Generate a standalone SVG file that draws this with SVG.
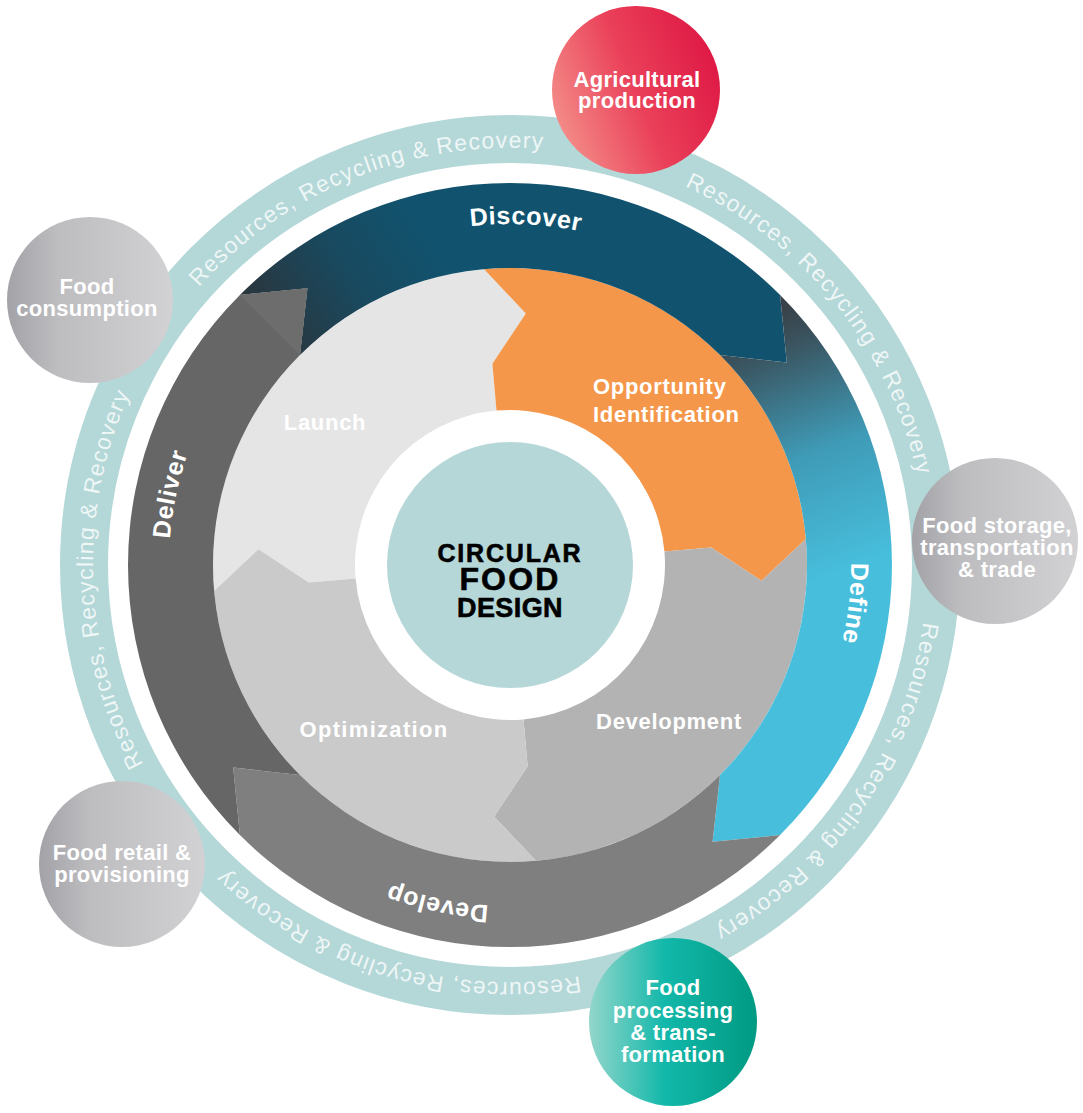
<svg xmlns="http://www.w3.org/2000/svg" width="1083" height="1113" viewBox="0 0 1083 1113">
<defs>
  <linearGradient id="gGray" x1="0" y1="0" x2="1" y2="0">
    <stop offset="0" stop-color="#a2a2a7"/>
    <stop offset="0.3" stop-color="#bdbdc0"/>
    <stop offset="1" stop-color="#d2d2d4"/>
  </linearGradient>
  <linearGradient id="gRed" x1="0" y1="0.7" x2="1" y2="0.3">
    <stop offset="0" stop-color="#f48f8a"/>
    <stop offset="0.5" stop-color="#ea4059"/>
    <stop offset="1" stop-color="#de1744"/>
  </linearGradient>
  <linearGradient id="gTeal" x1="0" y1="0.5" x2="1" y2="0.5">
    <stop offset="0" stop-color="#93d6cb"/>
    <stop offset="0.45" stop-color="#12b8aa"/>
    <stop offset="1" stop-color="#009a82"/>
  </linearGradient>
  <linearGradient id="gDiscover" gradientUnits="userSpaceOnUse" x1="255" y1="320" x2="420" y2="215">
    <stop offset="0" stop-color="#2b353c"/>
    <stop offset="0.55" stop-color="#184a60"/>
    <stop offset="1" stop-color="#11536f"/>
  </linearGradient>
  <linearGradient id="gDefine" gradientUnits="userSpaceOnUse" x1="775" y1="310" x2="870" y2="560">
    <stop offset="0" stop-color="#394148"/>
    <stop offset="0.15" stop-color="#3a5561"/>
    <stop offset="0.55" stop-color="#3f9bb7"/>
    <stop offset="1" stop-color="#47bedc"/>
  </linearGradient>
  <path id="ringPath" d="M 156.36 344.02 A 417 417 0 1 1 863.64 785.98 A 417 417 0 1 1 156.36 344.02"/>
  <path id="bandPath" d="M 220.81 384.30 A 341 341 0 1 1 799.19 745.70 A 341 341 0 1 1 220.81 384.30"/>
</defs>
<style>
  .lbl { font-family: "Liberation Sans", Arial, sans-serif; font-weight: bold; fill: #ffffff; }
  .node { font-size: 22px; text-anchor: middle; letter-spacing: 0.3px; }
  .sec { font-size: 22px; letter-spacing: 0.7px; }
  .mid { text-anchor: middle; }
  .band { font-size: 25px; letter-spacing: 0.6px; text-anchor: middle; }
  .ring { font-family: "Liberation Sans", Arial, sans-serif; font-size: 23px; fill: #eef6f6; letter-spacing: 1.2px; text-anchor: middle; }
  .ctr { font-family: "Liberation Sans", Arial, sans-serif; font-weight: bold; fill: #000000; stroke: #000000; stroke-width: 0.6px; text-anchor: middle; }
</style>

<rect x="0" y="0" width="1083" height="1113" fill="#ffffff"/>

<!-- outer recycling loop -->
<g id="connectors">
  <circle cx="510" cy="565" r="426" fill="none" stroke="#b4d7d8" stroke-width="48"/>
  <text class="ring"><textPath href="#ringPath" startOffset="263.5">Resources, Recycling &amp; Recovery</textPath></text>
  <text class="ring"><textPath href="#ringPath" startOffset="794.8">Resources, Recycling &amp; Recovery</textPath></text>
  <text class="ring"><textPath href="#ringPath" startOffset="1326.8">Resources, Recycling &amp; Recovery</textPath></text>
  <text class="ring"><textPath href="#ringPath" startOffset="1854.4">Resources, Recycling &amp; Recovery</textPath></text>
  <text class="ring"><textPath href="#ringPath" startOffset="2371.6">Resources, Recycling &amp; Recovery</textPath></text>
</g>

<!-- inner phase sectors -->
<g id="launch">
  <path fill="#e5e5e5" d="M 214.13 590.89 A 297 297 0 0 1 484.11 269.13 L 525.82 313.50 L 492.39 363.77 L 496.49 410.59 A 155 155 0 0 0 355.59 578.51 L 308.77 582.61 L 258.50 549.18 Z"/>
  <text class="lbl sec mid" x="325" y="430">Launch</text>
</g>
<g id="opportunity-identification">
  <path fill="#f5974a" d="M 484.11 269.13 A 297 297 0 0 1 805.87 539.11 L 761.50 580.82 L 711.23 547.39 L 664.41 551.49 A 155 155 0 0 0 496.49 410.59 L 492.39 363.77 L 525.82 313.50 Z"/>
  <text class="lbl sec" x="593" y="394">Opportunity</text>
  <text class="lbl sec" x="593" y="422">Identification</text>
</g>
<g id="development">
  <path fill="#b3b3b3" d="M 805.87 539.11 A 297 297 0 0 1 535.89 860.87 L 494.18 816.50 L 527.61 766.23 L 523.51 719.41 A 155 155 0 0 0 664.41 551.49 L 711.23 547.39 L 761.50 580.82 Z"/>
  <text class="lbl sec mid" x="669" y="729">Development</text>
</g>
<g id="optimization">
  <path fill="#cacaca" d="M 535.89 860.87 A 297 297 0 0 1 214.13 590.89 L 258.50 549.18 L 308.77 582.61 L 355.59 578.51 A 155 155 0 0 0 523.51 719.41 L 527.61 766.23 L 494.18 816.50 Z"/>
  <text class="lbl sec mid" x="374" y="737" style="letter-spacing:1.3px">Optimization</text>
</g>

<!-- outer phase bands -->
<g id="discover">
  <path fill="url(#gDiscover)" d="M 239.89 294.89 A 382 382 0 0 1 780.11 294.89 L 786.80 362.42 L 720.01 354.99 A 297 297 0 0 0 299.99 354.99 L 307.42 288.20 Z"/>
  <text class="lbl band"><textPath href="#bandPath" startOffset="360.7">Discover</textPath></text>
</g>
<g id="define">
  <path fill="url(#gDefine)" d="M 780.11 294.89 A 382 382 0 0 1 780.11 835.11 L 712.58 841.80 L 720.01 775.01 A 297 297 0 0 0 720.01 354.99 L 786.80 362.42 Z"/>
  <text class="lbl band"><textPath href="#bandPath" startOffset="918.3">Define</textPath></text>
</g>
<g id="develop">
  <path fill="#7f7f7f" d="M 780.11 835.11 A 382 382 0 0 1 239.89 835.11 L 233.20 767.58 L 299.99 775.01 A 297 297 0 0 0 720.01 775.01 L 712.58 841.80 Z"/>
  <text class="lbl band"><textPath href="#bandPath" startOffset="1487.9">Develop</textPath></text>
</g>
<g id="deliver">
  <path fill="#666666" d="M 239.89 835.11 A 382 382 0 0 1 239.89 294.89 L 307.42 288.20 L 299.99 354.99 A 297 297 0 0 0 299.99 775.01 L 233.20 767.58 Z"/>
  <path fill="#6d6d6d" d="M 239.89 294.89 L 307.42 288.20 L 299.99 354.99 Z"/>
  <text class="lbl band"><textPath href="#bandPath" startOffset="2021.2">Deliver</textPath></text>
</g>

<!-- centre -->
<g id="circular-food-design">
  <circle cx="510" cy="565" r="123" fill="#b6d7d8"/>
  <text class="ctr" x="510" y="562" style="font-size:25px;letter-spacing:1.8px">CIRCULAR</text>
  <text class="ctr" x="510" y="590" style="font-size:32px;letter-spacing:2.2px">FOOD</text>
  <text class="ctr" x="510" y="617" style="font-size:27px;letter-spacing:0.4px">DESIGN</text>
</g>

<!-- value-chain stages -->
<g id="agricultural-production">
  <circle cx="636" cy="90" r="84" fill="url(#gRed)"/>
  <text class="lbl node" x="637" y="87">Agricultural</text>
  <text class="lbl node" x="637" y="108">production</text>
</g>
<g id="food-storage">
  <circle cx="995" cy="541" r="83" fill="url(#gGray)"/>
  <text class="lbl node" x="997" y="533">Food storage,</text>
  <text class="lbl node" x="997" y="555">transportation</text>
  <text class="lbl node" x="997" y="577">&amp; trade</text>
</g>
<g id="food-processing">
  <circle cx="673" cy="1022" r="84" fill="url(#gTeal)"/>
  <text class="lbl node" x="673" y="995">Food</text>
  <text class="lbl node" x="673" y="1018">processing</text>
  <text class="lbl node" x="673" y="1040">&amp; trans-</text>
  <text class="lbl node" x="673" y="1062">formation</text>
</g>
<g id="food-retail">
  <circle cx="122" cy="864" r="83" fill="url(#gGray)"/>
  <text class="lbl node" x="122" y="860">Food retail &amp;</text>
  <text class="lbl node" x="122" y="882">provisioning</text>
</g>
<g id="food-consumption">
  <circle cx="90" cy="300" r="83" fill="url(#gGray)"/>
  <text class="lbl node" x="87" y="294">Food</text>
  <text class="lbl node" x="87" y="316">consumption</text>
</g>
</svg>
